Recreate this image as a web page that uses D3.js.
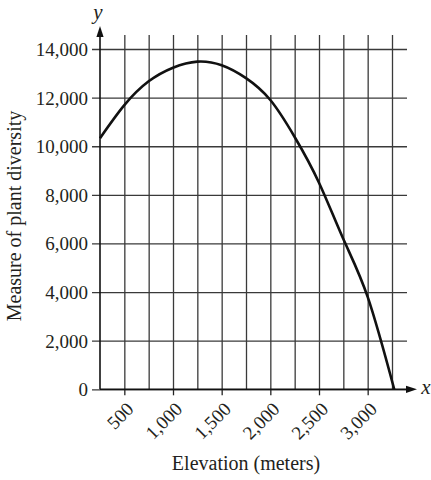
<!DOCTYPE html>
<html lang="en">
<head>
    <meta charset="UTF-8">
    <title>Plant diversity vs elevation</title>
    <script src="https://cdn.jsdelivr.net/npm/d3@7"></script>
    <style>
        body {
            margin: 0;
            background: #fff;
        }
        svg text {
            font-family: 'Liberation Serif', 'DejaVu Serif', serif;
            fill: #231f20;
        }
        .grid line {
            stroke: #3a3a3a;
            stroke-width: 1.3px;
        }
        .grid .domain {
            display: none;
        }
    </style>
</head>
<body>
    <div id="chart"></div>
    <script>
        // values
        const elevations = [250, 500, 750, 1000, 1250, 1500, 1750, 2000, 2250, 2500, 2750, 3000, 3273];
        const diversity = [10330, 11690, 12670, 13230, 13480, 13330, 12800, 11900, 10380, 8500, 6180, 3800, 0];

        const xLabelTicks = [500, 1000, 1500, 2000, 2500, 3000];
        const xGridTicks = [500, 750, 1000, 1250, 1500, 1750, 2000, 2250, 2500, 2750, 3000, 3250];
        const yTicks = [0, 2000, 4000, 6000, 8000, 10000, 12000, 14000];

        const width = 431, height = 480;
        const plotLeft = 100, plotRight = 392, plotBottom = 389.3, plotTop = 49;
        const gridRight = 407, gridTop = 35;
        const serif = "'Liberation Serif', 'DejaVu Serif', serif";

        const svg = d3.select('#chart').append('svg')
            .attr('width', width)
            .attr('height', height);

        const x = d3.scaleLinear().domain([250, 3250]).range([plotLeft, plotRight]);
        const y = d3.scaleLinear().domain([0, 14000]).range([plotBottom, plotTop]);

        // horizontal grid lines (plus the little ticks left of the axis)
        svg.append('g')
            .attr('class', 'grid')
            .attr('transform', `translate(${plotLeft - 8},0)`)
            .call(d3.axisRight(y).tickValues(yTicks).tickSize(gridRight - plotLeft + 8).tickFormat(''));

        // vertical grid lines
        svg.append('g')
            .attr('class', 'grid')
            .attr('transform', `translate(0,${plotBottom})`)
            .call(d3.axisTop(x).tickValues(xGridTicks).tickSize(plotBottom - gridTop).tickFormat(''));

        // y tick labels
        const yAxis = svg.append('g')
            .attr('transform', `translate(${plotLeft - 12},0)`)
            .call(d3.axisLeft(y).tickValues(yTicks).tickSize(0).tickPadding(0).tickFormat(d3.format(',')));
        yAxis.attr('font-family', serif);
        yAxis.select('.domain').remove();
        yAxis.selectAll('text')
            .style('font-family', serif)
            .style('font-size', '19px')
            .attr('dy', '0.34em');

        // x ticks and rotated labels
        const xAxis = svg.append('g')
            .attr('transform', `translate(0,${plotBottom})`)
            .call(d3.axisBottom(x).tickValues(xLabelTicks).tickSize(6).tickFormat(d3.format(',')));
        xAxis.attr('font-family', serif);
        xAxis.select('.domain').remove();
        xAxis.selectAll('line').attr('stroke', '#222').attr('stroke-width', 1.3);
        xAxis.selectAll('text')
            .style('font-family', serif)
            .style('font-size', '19px')
            .attr('text-anchor', 'end')
            .attr('y', 0)
            .attr('dy', 0)
            .attr('transform', 'translate(10,21) rotate(-45)');

        // axes with arrows
        const axisColor = '#111';
        svg.append('line')
            .attr('x1', plotLeft).attr('x2', 408)
            .attr('y1', plotBottom).attr('y2', plotBottom)
            .attr('stroke', axisColor).attr('stroke-width', 1.6);
        svg.append('path')
            .attr('d', `M417,${plotBottom} L406,${plotBottom - 3.6} L406,${plotBottom + 3.6} Z`)
            .attr('fill', axisColor);
        svg.append('line')
            .attr('x1', plotLeft).attr('x2', plotLeft)
            .attr('y1', plotBottom).attr('y2', 36)
            .attr('stroke', axisColor).attr('stroke-width', 1.6);
        svg.append('path')
            .attr('d', `M${plotLeft},26 L${plotLeft - 3.6},37 L${plotLeft + 3.6},37 Z`)
            .attr('fill', axisColor);

        svg.append('text')
            .attr('x', 98).attr('y', 19)
            .attr('text-anchor', 'middle')
            .style('font-size', '21px')
            .style('font-style', 'italic')
            .text('y');
        svg.append('text')
            .attr('x', 426).attr('y', 394)
            .attr('text-anchor', 'middle')
            .style('font-size', '21px')
            .style('font-style', 'italic')
            .text('x');

        // curve
        const line = d3.line()
            .x((d, i) => x(elevations[i]))
            .y(d => y(d))
            .curve(d3.curveNatural);
        svg.append('path')
            .datum(diversity)
            .attr('fill', 'none')
            .attr('stroke', '#111')
            .attr('stroke-width', 2.6)
            .attr('d', line);

        // axis titles
        svg.append('text')
            .attr('x', 246).attr('y', 470)
            .attr('text-anchor', 'middle')
            .style('font-size', '20px')
            .text('Elevation (meters)');
        svg.append('text')
            .attr('transform', 'translate(21,216) rotate(-90)')
            .attr('text-anchor', 'middle')
            .style('font-size', '20px')
            .text('Measure of plant diversity');
    </script>
</body>
</html>
